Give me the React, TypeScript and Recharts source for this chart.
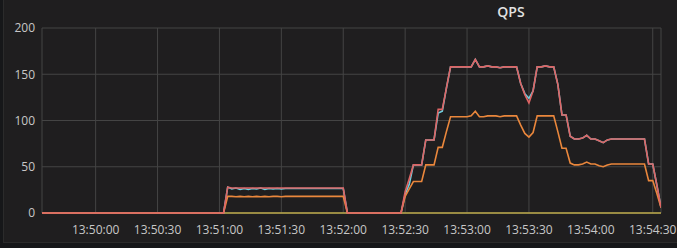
import { FC } from "react";
import { LineChart, Line, XAxis, YAxis, CartesianGrid } from "recharts";

// seconds relative to 13:50:00, one sample every 2s
const secondsFrom1350 = [
  -26, -24, -22, -20, -18, -16, -14, -12, -10, -8, -6, -4, -2, 0, 2, 4, 6, 8, 10, 12, 14, 16, 18, 20, 22, 24, 26, 28,
  30, 32, 34, 36, 38, 40, 42, 44, 46, 48, 50, 52, 54, 56, 58, 60, 62,
  64, 66, 68, 70, 72, 74, 76, 78, 80, 82, 84, 86, 88, 90, 92, 94, 96, 98, 100, 102, 104, 106, 108, 110, 112, 114, 116,
  118, 120,
  122, 124, 126, 128, 130, 132, 134, 136, 138, 140, 142, 144, 146, 148,
  150, 152, 154, 156, 158, 160, 162, 164, 166, 168, 170, 172, 174, 176, 178, 180, 182, 184, 186, 188, 190, 192, 194,
  196, 198, 200, 202, 204, 206, 208, 210, 212, 214, 216, 218, 220, 222, 224, 226, 228, 230, 232, 234, 236, 238, 240,
  242, 244, 246, 248, 250, 252, 254, 256, 258, 260, 262, 264, 266, 268, 270, 272, 274,
];

const redSeries = [
  0, 0, 0, 0, 0, 0, 0, 0, 0, 0, 0, 0, 0, 0, 0, 0, 0, 0, 0, 0, 0, 0, 0, 0, 0, 0, 0, 0,
  0, 0, 0, 0, 0, 0, 0, 0, 0, 0, 0, 0, 0, 0, 0, 0, 0,
  28, 27, 27, 27, 27, 27, 27, 27, 27, 27, 27, 27, 27, 27, 27, 27, 27, 27, 27, 27, 27, 27, 27, 27, 27, 27, 27,
  27, 27,
  0, 0, 0, 0, 0, 0, 0, 0, 0, 0, 0, 0, 0, 0,
  23, 37, 52, 52, 52, 79, 79, 79, 112, 112, 135, 158, 158, 158, 158, 158, 158, 166, 158, 158, 159, 158, 158,
  157, 158, 158, 158, 158, 140, 128, 119, 132, 158, 158, 159, 158, 158, 139, 106, 106, 83, 80, 80, 81, 84, 80,
  80, 78, 76, 79, 80, 80, 80, 80, 80, 80, 80, 80, 80, 53, 53, 30, 6,
];

const cyanSeries = [
  0, 0, 0, 0, 0, 0, 0, 0, 0, 0, 0, 0, 0, 0, 0, 0, 0, 0, 0, 0, 0, 0, 0, 0, 0, 0, 0, 0,
  0, 0, 0, 0, 0, 0, 0, 0, 0, 0, 0, 0, 0, 0, 0, 0, 0,
  28, 26, 27, 25.5, 26.5, 25.5, 26.5, 26, 27, 25.5, 26.5, 26, 26.5, 26, 26.5, 26.5, 26.5, 26.5, 26.5, 26.5, 26.5,
  26.5, 26.5, 26.5, 26.5, 26.5, 26.5, 26.5, 26.5,
  0, 0, 0, 0, 0, 0, 0, 0, 0, 0, 0, 0, 0, 0,
  20, 31, 52, 52, 52, 79, 79, 79, 108, 110, 135, 158, 158, 158, 158, 158, 158, 166, 158, 158, 159, 158, 158,
  157, 158, 158, 158, 158, 140, 129, 124, 132, 158, 158, 159, 158, 158, 139, 106, 106, 83, 80, 80, 81, 84, 80,
  80, 78, 76, 79, 80, 80, 80, 80, 80, 80, 80, 80, 80, 53, 53, 30, 6,
];

const orangeSeries = [
  0, 0, 0, 0, 0, 0, 0, 0, 0, 0, 0, 0, 0, 0, 0, 0, 0, 0, 0, 0, 0, 0, 0, 0, 0, 0, 0, 0,
  0, 0, 0, 0, 0, 0, 0, 0, 0, 0, 0, 0, 0, 0, 0, 0, 0,
  18, 18, 17.5, 18, 17.5, 18, 17.5, 18, 17.5, 18, 17.5, 18, 18, 17.5, 18, 18, 18, 18, 18, 18, 18, 18, 18, 18, 18,
  18, 18, 18, 18,
  0, 0, 0, 0, 0, 0, 0, 0, 0, 0, 0, 0, 0, 0,
  18, 26, 34, 34, 34, 52, 52, 52, 71, 71, 88, 104, 104, 104, 104, 104, 105, 110, 104, 104, 105, 105, 105,
  104, 105, 105, 105, 105, 95, 86, 82, 87, 105, 105, 105, 105, 105, 88, 70, 70, 54, 52, 52, 53, 55, 53,
  53, 51, 50, 52, 53, 53, 53, 53, 53, 53, 53, 53, 53, 35, 35, 21, 6,
];

const yellowSeries = [
  0, 0, 0, 0, 0, 0, 0, 0, 0, 0, 0, 0, 0, 0, 0, 0, 0, 0, 0, 0, 0, 0, 0, 0, 0, 0, 0, 0,
  0, 0, 0, 0, 0, 0, 0, 0, 0, 0, 0, 0, 0, 0, 0, 0, 0,
  0, 0, 0, 0, 0, 0, 0, 0, 0, 0, 0, 0, 0, 0, 0, 0, 0, 0, 0, 0, 0, 0, 0, 0, 0, 0, 0, 0, 0,
  0, 0, 0, 0, 0, 0, 0, 0, 0, 0, 0, 0, 0, 0,
  0, 0, 0, 0, 0, 0, 0, 0, 0, 0, 0, 0, 0, 0, 0, 0, 0, 0, 0, 0, 0, 0, 0, 0, 0, 0, 0, 0, 0, 0, 0, 0,
  0, 0, 0, 0, 0, 0, 0, 0, 0, 0, 0, 0, 0, 0, 0, 0, 0, 0, 0, 0, 0, 0, 0, 0, 0, 0, 0, 0, 0, 0, 0,
];

const xTicks = [0, 30, 60, 90, 120, 150, 180, 210, 240, 270];
const yTicks = [0, 50, 100, 150, 200];

const data = secondsFrom1350.map((t, i) => ({
  t,
  red: redSeries[i],
  cyan: cyanSeries[i],
  orange: orangeSeries[i],
  yellow: yellowSeries[i],
}));

function formatTime(s: number) {
  const total = 13 * 3600 + 50 * 60 + s;
  const hh = Math.floor(total / 3600);
  const mm = Math.floor((total % 3600) / 60);
  const ss = total % 60;
  const pad = (n: number) => String(n).padStart(2, "0");
  return `${pad(hh)}:${pad(mm)}:${pad(ss)}`;
}

const tickStyle = { fill: "#c7c7c7", fontSize: 12, fontFamily: "'Open Sans', sans-serif" };

const App: FC = () => {
  return (
    <div style={{ position: "absolute", left: 0, top: 0, width: 677, height: 248, background: "#161719", overflow: "hidden" }}>
      <div
        style={{
          position: "absolute",
          left: 3,
          top: -2,
          width: 690,
          height: 245,
          background: "#1f1e1f",
          border: "1px solid #2b2b2b",
          boxSizing: "border-box",
        }}
      />
      <div
        style={{
          position: "absolute",
          left: 461,
          width: 100,
          top: 2,
          textAlign: "center",
          color: "#e2e2e2",
          fontFamily: "'Open Sans', sans-serif",
          fontWeight: 600,
          fontSize: 14,
        }}
      >
        QPS
      </div>
      <div style={{ position: "absolute", left: 0, top: 0 }}>
        <LineChart width={677} height={248} data={data} margin={{ top: 28, right: 16, bottom: 15, left: 8 }}>
          <CartesianGrid stroke="#444444" strokeWidth={1} />
          <XAxis
            dataKey="t"
            type="number"
            domain={[-26, 274]}
            ticks={xTicks}
            tickFormatter={formatTime}
            axisLine={false}
            tickLine={false}
            tickSize={0}
            tickMargin={12}
            height={20}
            tick={tickStyle}
            allowDataOverflow
          />
          <YAxis
            domain={[0, 200]}
            ticks={yTicks}
            axisLine={false}
            tickLine={false}
            tickSize={0}
            tickMargin={7}
            width={34}
            tick={tickStyle}
          />
          <Line type="linear" dataKey="yellow" stroke="#bcaa4a" strokeWidth={1.6} dot={false} isAnimationActive={false} />
          <Line type="linear" dataKey="cyan" stroke="#6ed0e0" strokeWidth={1.6} dot={false} isAnimationActive={false} />
          <Line type="linear" dataKey="orange" stroke="#ea873c" strokeWidth={1.6} dot={false} isAnimationActive={false} />
          <Line type="linear" dataKey="red" stroke="#de6464" strokeWidth={1.6} dot={false} isAnimationActive={false} />
        </LineChart>
      </div>
    </div>
  );
};

export default App;
